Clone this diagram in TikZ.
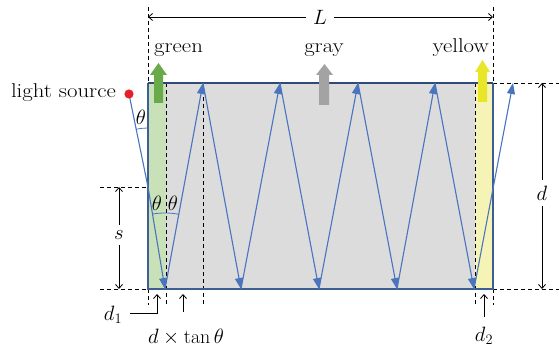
\documentclass[tikz,border=0pt]{standalone}
\usepackage{fontspec}
\usetikzlibrary{arrows.meta}
\definecolor{raycol}{HTML}{4A74BE}
\definecolor{boxfill}{HTML}{DCDCDC}
\definecolor{edgecol}{HTML}{3E5F93}
\definecolor{topcol}{HTML}{2E4A78}
\definecolor{greenfill}{HTML}{C9E1B8}
\definecolor{yellowfill}{HTML}{F5F4B6}
\definecolor{greenarr}{HTML}{6AAA4A}
\definecolor{grayarr}{HTML}{A3A3A3}
\definecolor{yellowarr}{HTML}{E9E62A}
\definecolor{dotred}{HTML}{E5202A}
\newcommand\widetxt[1]{\scalebox{1.14}[1]{#1}}
\tikzset{
  ray/.style={draw=raycol, line width=1.1pt, -{Triangle[length=11pt,width=8pt]}},
  anglearc/.style={draw=raycol, line width=0.8pt},
  guide/.style={draw=black, line width=0.8pt, dash pattern=on 4pt off 3pt},
  dim/.style={draw=black, line width=0.8pt, {Straight Barb[length=4pt,width=7pt]}-{Straight Barb[length=4pt,width=7pt]}},
  dimone/.style={draw=black, line width=0.8pt, -{Straight Barb[length=4pt,width=7pt]}},
  lbl/.style={inner sep=1pt},
  gaplbl/.style={fill=white, inner sep=2pt}
}
\begin{document}
\begin{tikzpicture}[x=1pt,y=1pt,font=\fontsize{20}{24}\selectfont]
\useasboundingbox (0,0) rectangle (559,351);
% corner coordinates
\coordinate (BL) at (148,62);
\coordinate (TR) at (493,268);
% fills
\fill[boxfill] (BL) rectangle (TR);
\fill[greenfill] (148,62) rectangle (166,268);
\fill[yellowfill] (475,62) rectangle (493,268);
% guide lines
\draw[guide] (148,344) -- (148,268);
\draw[guide] (148,62) -- (148,46);
\draw[guide] (493,344) -- (493,268);
\draw[guide] (493,62) -- (493,46);
\draw[guide] (166,268) -- (166,46);
\draw[guide] (203,268) -- (203,46);
\draw[guide] (475,268) -- (475,46);
\draw[guide] (493,268) -- (559,268);
\draw[guide] (493,62) -- (559,62);
\draw[guide] (100,164) -- (148,164);
\draw[guide] (100,62) -- (148,62);
% box border
\draw[edgecol, line width=1.6pt] (148,268) -- (148,62) -- (493,62) -- (493,268);
\draw[topcol, line width=1.8pt] (148,268) -- (493,268);
% ray points
\coordinate (src) at (129,257);
\coordinate (w) at (148,164);
\coordinate (b1) at (165,62);
\coordinate (t1) at (203,268);
\coordinate (b2) at (241,62);
\coordinate (t2) at (280,268);
\coordinate (b3) at (319,62);
\coordinate (t3) at (358,268);
\coordinate (b4) at (397,62);
\coordinate (t4) at (435,268);
\coordinate (b5) at (474,62);
\coordinate (t5) at (513,268);
% rays
\draw[ray] (src) -- (w) -- (b1);
\draw[ray] (b1) -- (t1);
\draw[ray] (t1) -- (b2);
\draw[ray] (b2) -- (t2);
\draw[ray] (t2) -- (b3);
\draw[ray] (b3) -- (t3);
\draw[ray] (t3) -- (b4);
\draw[ray] (b4) -- (t4);
\draw[ray] (t4) -- (b5);
\draw[ray] (b5) -- (t5);
% light source
\fill[dotred] (src) circle (4.6);
\node[lbl, anchor=base east] (lsrc) at (117,253) {\widetxt{light source}};
% angle arcs
\draw[anglearc] (w) ++(90:59) arc[start angle=90, end angle=101.5, radius=59];
\draw[anglearc] (b1) ++(79.5:76) arc[start angle=79.5, end angle=99.5, radius=76];
\node[lbl] (th1) at (141,234) {$\theta$};
\node[lbl] (th2) at (157,148) {$\theta$};
\node[lbl] (th3) at (173,148) {$\theta$};
% colored output arrows
\fill[greenarr] (154,248) -- (154,276) -- (150,276) -- (158.5,288) -- (167,276) -- (163,276) -- (163,248) -- cycle;
\fill[grayarr] (319,246) -- (319,276) -- (316,276) -- (324.5,287) -- (333,276) -- (329,276) -- (329,246) -- cycle;
\fill[yellowarr] (478,249) -- (478,279) -- (475,279) -- (482.5,291) -- (490,279) -- (487,279) -- (487,249) -- cycle;
\node[lbl, anchor=base west] (gtxt) at (153,298) {\widetxt{green}};
\node[lbl, anchor=base] (graytxt) at (324,298) {\widetxt{gray}};
\node[lbl, anchor=base east] (ytxt) at (490,298) {\widetxt{yellow}};
% L dimension
\coordinate (Ll) at (148,334);
\coordinate (Lr) at (493,334);
\draw[dim] (Ll) -- (Lr);
\node[gaplbl, inner xsep=7pt] (Ltxt) at (320,334) {$L$};
% d dimension
\coordinate (dt) at (542,268);
\coordinate (db) at (542,62);
\draw[dim] (dt) -- (db);
\node[gaplbl, inner ysep=6pt] (dtxt) at (542,158) {$d$};
% s dimension
\coordinate (st) at (119,164);
\coordinate (sb) at (119,62);
\draw[dim] (st) -- (sb);
\node[gaplbl, inner ysep=6pt] (stxt) at (119,116) {$s$};
% d1
\coordinate (d1a) at (130,38);
\coordinate (d1b) at (157,38);
\coordinate (d1c) at (157,57);
\draw[dimone] (d1a) -- (d1b) -- (d1c);
\node[lbl] (d1txt) at (113,36) {$d_1$};
% d tan theta
\coordinate (dta) at (183,39);
\coordinate (dtb) at (183,57);
\draw[dimone] (dta) -- (dtb);
\node[lbl] (dttxt) at (186,14) {$d\times\tan\theta$};
% d2
\coordinate (d2a) at (484,34);
\coordinate (d2b) at (484,57);
\draw[dimone] (d2a) -- (d2b);
\node[lbl] (d2txt) at (484,15) {$d_2$};
\end{tikzpicture}
\end{document}
